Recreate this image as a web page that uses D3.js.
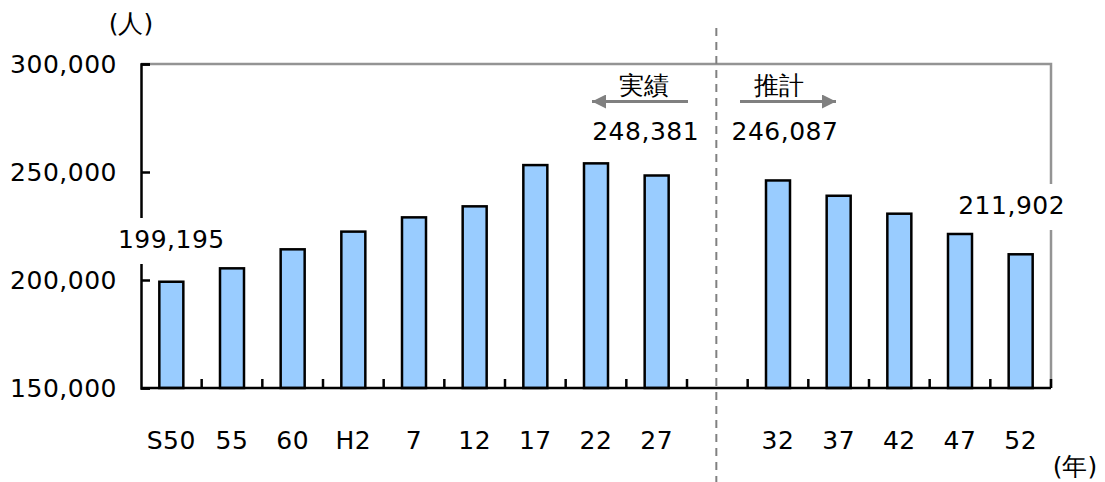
<!DOCTYPE html>
<html><head><meta charset="utf-8">
<script src="https://cdn.jsdelivr.net/npm/d3@7"></script>
<style>body{margin:0;background:#fff}svg{display:block}text{font-family:"DejaVu Sans",Verdana,sans-serif}</style>
</head><body><svg id="c" width="1105" height="482"></svg>
<script>
const categories = ["S50","55","60","H2","7","12","17","22","27","","32","37","42","47","52"];
const population = [199195,205400,214200,222400,229000,234100,253200,254000,248381,null,246087,239000,230700,221300,211902];
const yTicks = [150000,200000,250000,300000];
const labeled = [{cat:"S50",text:"199,195",bg:true,dx:0},{cat:"27",text:"248,381",bg:false,dx:-11},{cat:"32",text:"246,087",bg:false,dx:7},{cat:"52",text:"211,902",bg:true,dx:-9}];

const svg = d3.select("#c");
const L=141,R=1051,T=64,B=388;
const xs = d3.scaleBand().domain(categories.map((c,i)=>i)).range([L,R]);
const y = d3.scaleLinear().domain([150000,300000]).range([B,T]);
const fmt = d3.format(",");

// frame top/right gray
svg.append("path").attr("d",`M${L},${T}H${R}V${B}`).attr("fill","none").attr("stroke","#949494").attr("stroke-width",2.5);

// bars
svg.append("g").selectAll("rect").data(population.map((v,i)=>({v,i})).filter(d=>d.v!=null)).join("rect")
 .attr("x",d=>xs(d.i)+xs.bandwidth()/2-12).attr("width",24)
 .attr("y",d=>y(d.v)).attr("height",d=>B-y(d.v))
 .attr("fill","#99ccff").attr("stroke","#000").attr("stroke-width",2.5);

// y axis
const ya = svg.append("g").attr("transform",`translate(${L},0)`)
 .call(d3.axisRight(y).tickValues(yTicks).tickSize(9).tickFormat(""));
ya.select(".domain").attr("stroke","#000").attr("stroke-width",2.5);
ya.selectAll(".tick line").attr("stroke","#000").attr("stroke-width",2.5);
svg.append("g").selectAll("text").data(yTicks).join("text")
 .attr("x",117).attr("y",d=>y(d)+9).attr("text-anchor","end")
 .attr("font-size",25).attr("letter-spacing",0.5).attr("fill","#000").text(d=>fmt(d));

// x axis
const edges = d3.range(categories.length+1).map(i=>L+i*xs.step());
svg.append("line").attr("x1",L).attr("x2",R).attr("y1",B).attr("y2",B).attr("stroke","#000").attr("stroke-width",2.5);
svg.append("g").selectAll("line").data(edges.slice(1)).join("line")
 .attr("x1",d=>d).attr("x2",d=>d).attr("y1",B).attr("y2",B-9).attr("stroke","#000").attr("stroke-width",2.5);
svg.append("g").selectAll("text").data(categories.map((c,i)=>({c,i}))).join("text")
 .attr("x",d=>xs(d.i)+xs.bandwidth()/2).attr("y",449).attr("text-anchor","middle")
 .attr("font-size",25).attr("letter-spacing",0.5).text(d=>d.c);

// dashed divider
const divX = xs(9)+xs.bandwidth()/2 - 1;
svg.append("line").attr("x1",divX).attr("x2",divX).attr("y1",28).attr("y2",482)
 .attr("stroke","#808080").attr("stroke-width",2).attr("stroke-dasharray","8,6");

// value labels
labeled.forEach(l=>{
  const i = categories.indexOf(l.cat);
  const cx = xs(i)+xs.bandwidth()/2 + l.dx;
  const ty = l.cat==="S50"?248:(l.cat==="52"?214:140);
  if(l.bg){
    svg.append("rect").attr("x",cx-56).attr("y",ty-30).attr("width",112).attr("height",46).attr("fill","#fff");
  }
  svg.append("text").attr("x",cx).attr("y",ty).attr("text-anchor","middle")
   .attr("font-size",25).attr("letter-spacing",0.5).text(l.text);
});

// arrows and labels
svg.append("defs").append("marker").attr("id","ah").attr("viewBox","0 0 10 10").attr("refX",10).attr("refY",5)
 .attr("markerWidth",18).attr("markerHeight",14).attr("markerUnits","userSpaceOnUse").attr("orient","auto")
 .append("path").attr("d","M0,0L10,5L0,10Z").attr("fill","#808080");
svg.append("line").attr("x1",688).attr("x2",592).attr("y1",101.5).attr("y2",101.5).attr("stroke","#808080").attr("stroke-width",3).attr("marker-end","url(#ah)");
svg.append("line").attr("x1",740).attr("x2",836).attr("y1",101.5).attr("y2",101.5).attr("stroke","#808080").attr("stroke-width",3).attr("marker-end","url(#ah)");
svg.append("text").attr("x",644).attr("y",94).attr("text-anchor","middle").attr("font-size",25).attr("font-family","Noto Sans CJK JP").text("実績");
svg.append("text").attr("x",779).attr("y",94).attr("text-anchor","middle").attr("font-size",25).attr("font-family","Noto Sans CJK JP").text("推計");

// unit labels
svg.append("text").attr("x",131).attr("y",32).attr("text-anchor","middle").attr("font-size",25).text("(人)");
svg.append("text").attr("x",1075).attr("y",475).attr("text-anchor","middle").attr("font-size",25).text("(年)");
</script></body></html>
